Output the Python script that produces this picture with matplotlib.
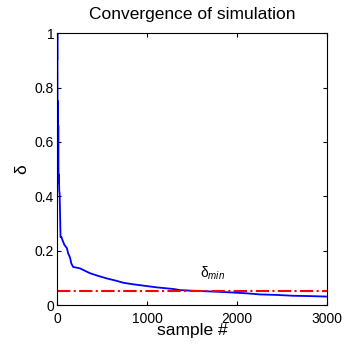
import numpy as np
import matplotlib.pyplot as plt

plt.rcParams['font.family'] = ['Liberation Sans', 'DejaVu Sans']
plt.rcParams['mathtext.fontset'] = 'custom'
plt.rcParams['mathtext.rm'] = 'Liberation Sans'
plt.rcParams['mathtext.it'] = 'Liberation Sans:italic'

samples = [1, 3, 5, 8, 10, 12, 15, 18, 22, 26, 30, 35, 40, 50, 60, 85, 110, 125, 145, 160,
           180, 255, 367, 450, 552, 650, 737, 830, 922, 1107, 1293, 1367, 1478, 1700,
           1900, 2107, 2255, 2450, 2626, 2800, 3000]
delta = [1.0, 0.9, 1.0, 0.62, 0.75, 0.47, 0.66, 0.45, 0.48, 0.42, 0.41, 0.33, 0.25, 0.25, 0.24,
         0.22, 0.21, 0.19, 0.175, 0.153, 0.14, 0.135, 0.117, 0.108, 0.098, 0.09, 0.082, 0.077,
         0.073, 0.065, 0.059, 0.055, 0.053, 0.05, 0.047, 0.043, 0.039, 0.037, 0.034, 0.033, 0.031]
delta_min = 0.05

plt.figure(figsize=(3.45, 3.49), dpi=100)
ax = plt.axes([0.165, 0.126, 0.783, 0.779])
ax.plot(samples, delta, color='blue', lw=1.3)
ax.axhline(delta_min, color='red', ls='-.', lw=1.5)
ax.text(1590, 0.1, r'$\mathrm{\delta}_{min}$', fontsize=10)
ax.set_xlim(0, 3000)
ax.set_ylim(0, 1)
ax.set_xticks([0, 1000, 2000, 3000])
ax.set_yticks([0, 0.2, 0.4, 0.6, 0.8, 1])
ax.set_yticklabels(['0', '0.2', '0.4', '0.6', '0.8', '1'])
ax.tick_params(direction='in', top=True, right=True, labelsize=10, length=3, pad=2)
ax.tick_params(axis='x', pad=5)
ax.set_xlabel('sample #', fontsize=12.5, labelpad=-2)
ax.set_ylabel('δ', fontsize=12.5, labelpad=4)
ax.set_title('Convergence of simulation', fontsize=12.5, pad=10)
plt.savefig('out.png', dpi=100)
